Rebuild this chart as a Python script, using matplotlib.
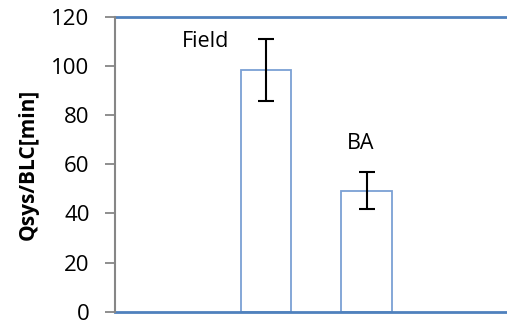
import matplotlib.pyplot as plt

# categories (first and last slots are empty in the original sheet)
positions = [1, 2, 3, 4]
labels = ['', 'Field', 'BA', '']
values = [0, 98.4, 49.2, 0]
errors = [0, 12.7, 7.5, 0]
yticks = [0, 20, 40, 60, 80, 100, 120]

plt.rcParams['font.family'] = ['Open Sans', 'DejaVu Sans']

fig = plt.figure(figsize=(5.07, 3.21), dpi=100)
ax = fig.add_axes([0.2262, 0.0290, 0.7953, 0.919])

blue = '#4F81BD'
bar_edge = '#7BA0D4'

for p, v, e in zip(positions, values, errors):
    if v <= 0:
        continue
    ax.bar(p, v, width=0.5, facecolor='white', edgecolor=bar_edge, linewidth=1.3, zorder=2)
    ax.errorbar(p, v, yerr=e, fmt='none', ecolor='black', elinewidth=1.5,
                capsize=5.5, capthick=1.5, zorder=3)

# data labels, placed as in the original
ax.text(1.405, 109.8, labels[1], fontsize=15.5, ha='center', va='center')
ax.text(2.94, 68.6, labels[2], fontsize=15.5, ha='center', va='center')

ax.set_xlim(0.5, 4.5)
ax.set_ylim(0, 120)
ax.set_yticks(yticks)
ax.set_xticks([])
ax.tick_params(axis='y', direction='out', length=7, width=1.3, color='#868686',
               labelsize=16, pad=11)
ax.set_ylabel('Qsys/BLC[min]', fontsize=15, fontweight='bold', labelpad=9)

ax.spines['left'].set_color('#868686')
ax.spines['left'].set_linewidth(1.5)
ax.spines['left'].set_zorder(4)
ax.spines['top'].set_color(blue)
ax.spines['top'].set_linewidth(2)
ax.spines['bottom'].set_color(blue)
ax.spines['bottom'].set_linewidth(2)
ax.spines['right'].set_visible(False)

fig.savefig('out.png', dpi=100)
